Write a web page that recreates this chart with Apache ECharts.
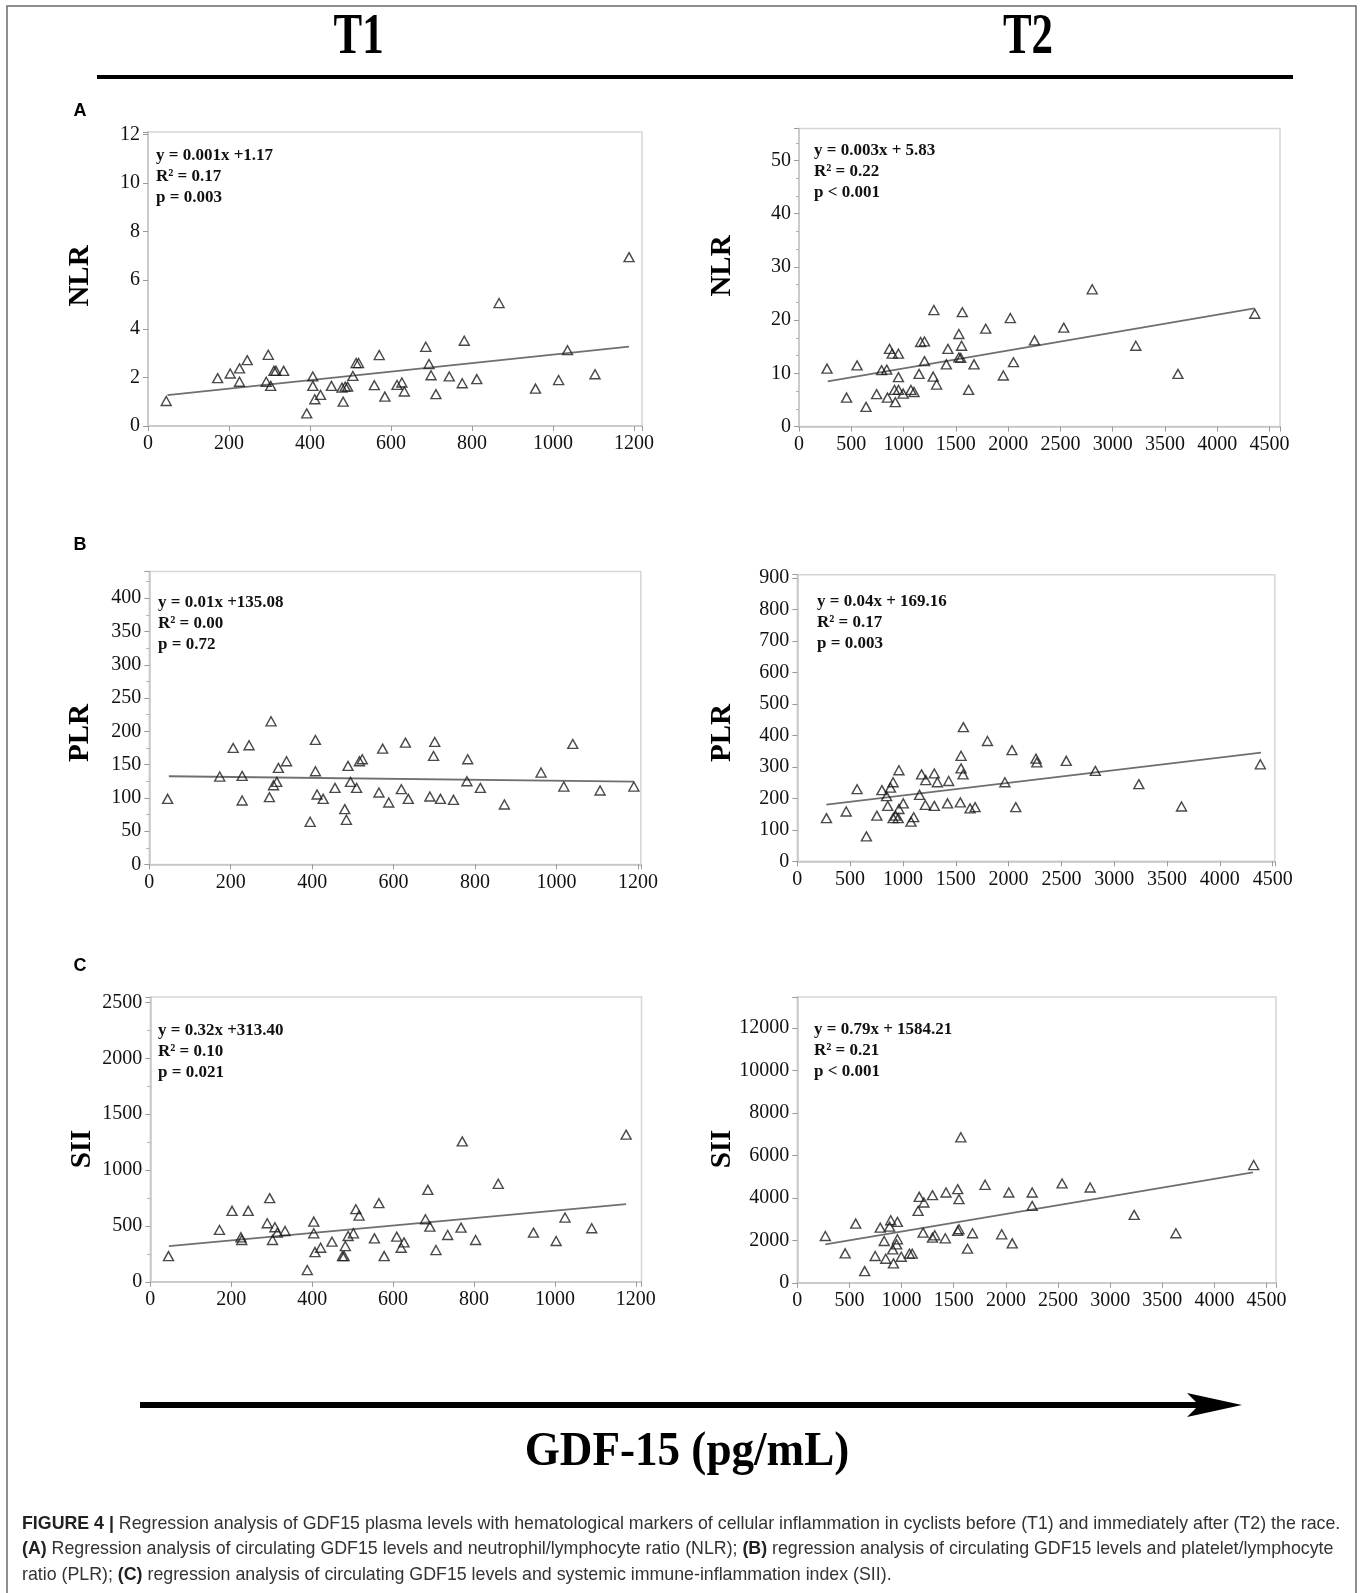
<!DOCTYPE html>
<html>
<head>
<meta charset="utf-8">
<title>GDF-15 regression</title>
<script src="https://cdn.jsdelivr.net/npm/echarts@6/dist/echarts.min.js"></script>
<style>
  html, body { margin: 0; padding: 0; background: #fff; }
  #chart { width: 1360px; height: 1593px; }
</style>
</head>
<body>
<div id="chart"></div>
<script>
// GDF-15 (x) against the inflammation markers, T1 = before, T2 = after the race
const nlrT1 = [[45,1.03],[172,1.97],[203,2.16],[226,2.37],[226,1.82],[245,2.71],[292,1.82],[297,2.93],[303,1.65],[311,2.27],[316,2.27],[335,2.27],[392,0.52],[407,2.04],[407,1.65],[412,1.10],[426,1.28],[453,1.65],[479,1.58],[482,1.0],[487,1.62],[493,1.62],[506,2.06],[514,2.59],[520,2.59],[559,1.68],[571,2.92],[585,1.21],[615,1.69],[627,1.79],[633,1.42],[686,3.26],[694,2.55],[699,2.09],[711,1.31],[744,2.04],[776,1.76],[781,3.51],[812,1.93],[867,5.06],[957,1.54],[1014,1.89],[1036,3.12],[1104,2.13],[1188,6.95]];
const nlrT2 = [[268,10.9],[455,5.45],[555,11.5],[641,3.7],[742,6.1],[790,10.6],[839,10.7],[846,5.45],[865,14.6],[891,13.7],[913,6.9],[921,4.6],[951,13.7],[951,6.9],[951,9.3],[996,6.2],[1070,6.9],[1100,6.5],[1148,9.9],[1163,15.9],[1200,16.0],[1200,12.3],[1283,9.4],[1290,21.9],[1316,7.9],[1409,11.7],[1424,14.6],[1529,17.4],[1529,13.0],[1547,12.9],[1555,15.2],[1562,21.5],[1622,6.9],[1674,11.7],[1786,18.4],[1954,9.6],[2021,20.4],[2051,12.1],[2252,16.2],[2532,18.6],[2804,25.8],[3221,15.2],[3624,9.9],[4359,21.2]];
const plrT1 = [[45,98.5],[173,132],[206,175],[228,133],[228,96],[245,179],[295,101],[299,215],[305,119],[313,124],[317,145],[337,155],[395,64],[408,187],[408,140],[412,105],[427,98.5],[456,115],[480,83],[484,67],[488,148],[494,124],[509,115],[516,155],[523,158],[564,108],[573,174],[588,93],[619,113],[629,183],[636,98.5],[689,102],[698,163],[701,184],[715,98.5],[747,97],[780,125],[782,158],[813,115],[872,90],[962,138],[1018,117],[1040,181],[1107,111],[1190,117]];
const plrT2 = [[276,137],[463,158],[566,229],[654,79],[753,145],[801,226],[845,207],[856,176],[882,234],[907,251],[907,137],[929,145],[955,137],[962,166],[962,289],[1003,184],[1076,126],[1102,140],[1157,211],[1176,276],[1212,179],[1216,258],[1297,176],[1297,279],[1326,251],[1422,184],[1433,255],[1543,187],[1550,335],[1550,295],[1569,276],[1572,426],[1635,168],[1683,172],[1800,382],[1965,251],[2032,353],[2068,172],[2259,326],[2267,314],[2546,319],[2821,287],[3233,245],[3637,174],[4383,308]];
const siiT1 = [[45,230],[171,464],[202,635],[224,398],[226,374],[242,635],[289,524],[295,749],[302,374],[308,488],[314,440],[333,455],[388,105],[404,539],[404,434],[407,266],[421,305],[449,359],[475,230],[479,230],[482,320],[489,410],[502,434],[508,650],[516,593],[554,389],[565,704],[578,230],[609,404],[620,305],[627,353],[680,560],[686,823],[691,494],[706,284],[735,419],[768,485],[771,1257],[804,374],[860,877],[947,440],[1003,365],[1025,575],[1091,479],[1176,1317]];
const siiT2 = [[269,2205],[459,1386],[560,2787],[646,551],[747,1260],[795,2598],[833,1969],[848,1134],[885,2646],[896,2945],[915,1575],[922,913],[952,1811],[960,2866],[960,2047],[997,1228],[1075,1370],[1102,1370],[1158,3386],[1169,4047],[1214,3780],[1206,2362],[1296,2126],[1296,4126],[1318,2236],[1419,2094],[1426,4252],[1538,2441],[1538,4409],[1550,3937],[1550,2520],[1568,6850],[1632,1606],[1680,2331],[1800,4614],[1960,2283],[2028,4252],[2061,1858],[2252,4252],[2252,3622],[2539,4677],[2808,4488],[3230,3197],[3630,2331],[4376,5543]];

// fitted lines as drawn (end points)
const fitNlrT1 = [[48,1.27],[1188,3.27]];
const fitNlrT2 = [[275,8.5],[4355,22.2]];
const fitPlrT1 = [[48,132.5],[1190,124.5]];
const fitPlrT2 = [[275,180],[4390,345]];
const fitSiiT1 = [[46,320],[1176,695]];
const fitSiiT2 = [[269,1811],[4369,5197]];

const eqNlrT1 = ['y = 0.001x +1.17', 'R² = 0.17', 'p = 0.003'];
const eqNlrT2 = ['y = 0.003x + 5.83', 'R² = 0.22', 'p < 0.001'];
const eqPlrT1 = ['y = 0.01x +135.08', 'R² = 0.00', 'p = 0.72'];
const eqPlrT2 = ['y = 0.04x + 169.16', 'R² = 0.17', 'p = 0.003'];
const eqSiiT1 = ['y = 0.32x +313.40', 'R² = 0.10', 'p = 0.021'];
const eqSiiT2 = ['y = 0.79x + 1584.21', 'R² = 0.21', 'p < 0.001'];

const SERIF = '"Liberation Serif", "Times New Roman", serif';
const SANS = '"Liberation Sans", Arial, sans-serif';

// where each small plot sits and how its axes run
const panels = [
  { name: 'NLR', data: nlrT1, fit: fitNlrT1, eq: eqNlrT1, left: 148, top: 132, width: 494, height: 294,
    xMax: 1220, xStep: 200, yMax: 12.1, yStep: 2, minor: 0, eqX: 156, eqY: 156, nameX: 81, nameY: 276 },
  { name: 'NLR', data: nlrT2, fit: fitNlrT2, eq: eqNlrT2, left: 799, top: 128.6, width: 481, height: 298,
    xMax: 4600, xStep: 500, yMax: 56, yStep: 10, minor: 3, eqX: 814, eqY: 151, nameX: 723, nameY: 266 },
  { name: 'PLR', data: plrT1, fit: fitPlrT1, eq: eqPlrT1, left: 149.3, top: 571.6, width: 491.5, height: 292.8,
    xMax: 1207, xStep: 200, yMax: 440, yStep: 50, minor: 2, eqX: 158, eqY: 603, nameX: 81, nameY: 733 },
  { name: 'PLR', data: plrT2, fit: fitPlrT2, eq: eqPlrT2, left: 797.3, top: 574.7, width: 477.5, height: 286.6,
    xMax: 4520, xStep: 500, yMax: 910, yStep: 100, minor: 0, eqX: 817, eqY: 602, nameX: 723, nameY: 733 },
  { name: 'SII', data: siiT1, fit: fitSiiT1, eq: eqSiiT1, left: 150.3, top: 996.9, width: 491.2, height: 284.9,
    xMax: 1214, xStep: 200, yMax: 2550, yStep: 500, minor: 2, eqX: 158, eqY: 1031, nameX: 83, nameY: 1149 },
  { name: 'SII', data: siiT2, fit: fitSiiT2, eq: eqSiiT2, left: 797.3, top: 997.1, width: 478.7, height: 285.7,
    xMax: 4590, xStep: 500, yMax: 13450, yStep: 2000, minor: 0, eqX: 814, eqY: 1030, nameX: 723, nameY: 1149 }
];

function onlySteps(step) {
  return function (v) {
    const k = v / step;
    return Math.abs(k - Math.round(k)) < 1e-6 ? String(Math.round(v * 100) / 100) : '';
  };
}

function axis(i, max, step, minor) {
  return {
    type: 'value', gridIndex: i, min: 0, max: max, interval: step,
    splitLine: { show: false },
    axisLine: { show: true, onZero: false, lineStyle: { color: '#c4c4c4', width: 1.5 } },
    axisTick: { show: true, length: 5, lineStyle: { color: '#9a9a9a', width: 1 } },
    minorTick: { show: minor > 0, splitNumber: minor || 5, length: 3, lineStyle: { color: '#b0b0b0' } },
    axisLabel: { color: '#111', fontFamily: SERIF, fontSize: 20, margin: 8, formatter: onlySteps(step) }
  };
}

const grid = [], xAxis = [], yAxis = [], series = [], graphic = [];

panels.forEach(function (p, i) {
  grid.push({ left: p.left, top: p.top, width: p.width, height: p.height, show: true,
    borderColor: '#d6d6d6', borderWidth: 1.5, backgroundColor: 'transparent' });
  xAxis.push(axis(i, p.xMax, p.xStep, 0));
  yAxis.push(axis(i, p.yMax, p.yStep, p.minor));
  series.push({
    type: 'line', xAxisIndex: i, yAxisIndex: i, data: p.fit, symbol: 'none', silent: true, z: 2,
    lineStyle: { color: '#6f6f6f', width: 1.8 }
  });
  series.push({
    type: 'scatter', xAxisIndex: i, yAxisIndex: i, data: p.data, symbol: 'triangle', symbolSize: [10, 9],
    silent: true, z: 3,
    itemStyle: { color: 'rgba(255,255,255,0)', borderColor: '#1b1b1b', borderWidth: 1.4 }
  });
  p.eq.forEach(function (line, k) {
    graphic.push({ type: 'text', x: p.eqX, y: p.eqY + k * 21, silent: true,
      style: { text: line, font: 'bold 17px ' + SERIF, fill: '#111',
        align: 'left', verticalAlign: 'middle', textAlign: 'left', textVerticalAlign: 'middle' } });
  });
  graphic.push({ type: 'text', x: p.nameX, y: p.nameY, rotation: Math.PI / 2, silent: true,
    style: { text: p.name, font: 'bold 29px ' + SERIF, fill: '#000',
      align: 'center', verticalAlign: 'middle', textAlign: 'center', textVerticalAlign: 'middle' } });
});

function label(txt, x, y, font, sx) {
  return { type: 'text', x: x, y: y, scaleX: sx || 1, silent: true,
    style: { text: txt, font: font, fill: '#000',
      align: 'center', verticalAlign: 'middle', textAlign: 'center', textVerticalAlign: 'middle' } };
}

graphic.push({ type: 'rect', silent: true, shape: { x: 7, y: 6, width: 1349, height: 1620 },
  style: { fill: 'none', stroke: '#6a6a6a', lineWidth: 1.5 } });
graphic.push(label('T1', 358.6, 37.6, 'bold 58px ' + SERIF, 0.74));
graphic.push(label('T2', 1028, 37.6, 'bold 58px ' + SERIF, 0.74));
graphic.push({ type: 'line', silent: true, shape: { x1: 97, y1: 77, x2: 1293, y2: 77 },
  style: { stroke: '#000', lineWidth: 4 } });
graphic.push(label('A', 80, 111, 'bold 18px ' + SANS));
graphic.push(label('B', 80, 545, 'bold 18px ' + SANS));
graphic.push(label('C', 80, 966, 'bold 18px ' + SANS));

// arrow along the bottom
graphic.push({ type: 'line', silent: true, shape: { x1: 140, y1: 1405, x2: 1200, y2: 1405 },
  style: { stroke: '#000', lineWidth: 6 } });
graphic.push({ type: 'polygon', silent: true,
  shape: { points: [[1242, 1405], [1187, 1393], [1199, 1405], [1187, 1417]] },
  style: { fill: '#000' } });
graphic.push(label('GDF-15 (pg/mL)', 687, 1453, 'bold 48px ' + SERIF, 0.94));

const caption = [
  '{b|FIGURE 4 |} Regression analysis of GDF15 plasma levels with hematological markers of cellular inflammation in cyclists before (T1) and immediately after (T2) the race.',
  '{b|(A)} Regression analysis of circulating GDF15 levels and neutrophil/lymphocyte ratio (NLR); {b|(B)} regression analysis of circulating GDF15 levels and platelet/lymphocyte',
  'ratio (PLR); {b|(C)} regression analysis of circulating GDF15 levels and systemic immune-inflammation index (SII).'
];
caption.forEach(function (line, k) {
  graphic.push({ type: 'text', x: 22, y: 1524 + k * 25.5, silent: true,
    style: { text: line, fontFamily: SANS, fontSize: 17.8, fill: '#333',
      align: 'left', verticalAlign: 'middle', textAlign: 'left', textVerticalAlign: 'middle',
      rich: { b: { fontFamily: SANS, fontSize: 17.8, fontWeight: 'bold', fill: '#222' } } } });
});

const chart = echarts.init(document.getElementById('chart'));
chart.setOption({
  backgroundColor: '#fff',
  animation: false,
  grid: grid,
  xAxis: xAxis,
  yAxis: yAxis,
  series: series,
  graphic: graphic
});
</script>
</body>
</html>
